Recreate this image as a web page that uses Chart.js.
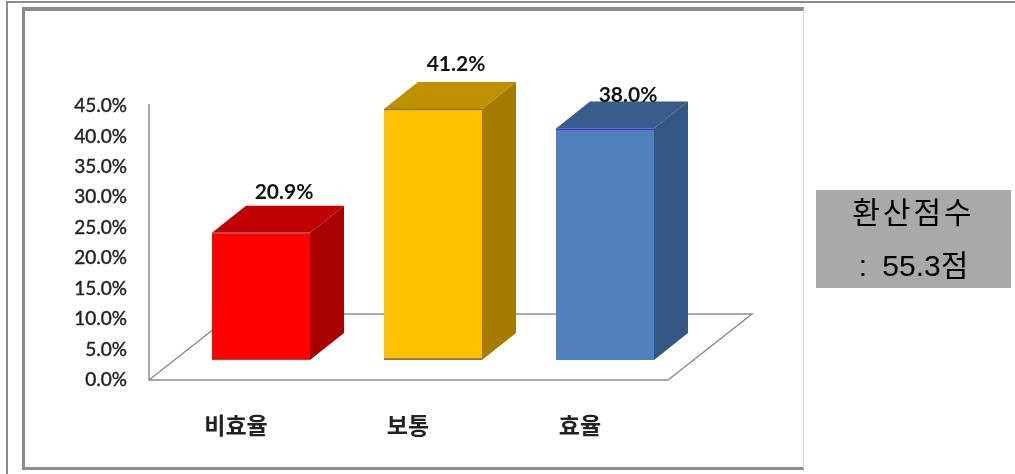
<!DOCTYPE html>
<html>
<head>
<meta charset="utf-8">
<script src="https://cdn.jsdelivr.net/npm/chart.js@4"></script>
<style>
  html, body { margin: 0; padding: 0; background: #fff; width: 1015px; height: 474px; overflow: hidden; }
  #outer { position: absolute; left: 6px; top: 1px; width: 1009px; height: 473px; border-left: 2px solid #8c8c8c; border-top: 2px solid #8c8c8c; box-sizing: border-box; }
  #inner { position: absolute; left: 22px; top: 7px; width: 782px; height: 463px; border: 3px solid #8c8c8c; border-top-width: 4px; border-right: 1px solid #d8d8d8; box-sizing: border-box; }
  #chart { position: absolute; left: 0; top: 0; }
  #score { position: absolute; left: 816px; top: 190px; width: 195px; height: 98px; background: #a9a9a9; color: #000;
    font: 30px "Liberation Sans", "Noto Sans CJK KR", sans-serif; text-align: center; line-height: 53px; }
  #score div { position: relative; top: -4px; }
  #score div:first-child { letter-spacing: 3px; }
  #score div:last-child { word-spacing: 7px; }
</style>
</head>
<body>
<div id="outer"></div>
<div id="inner"></div>
<canvas id="chart" width="1015" height="474"></canvas>
<div id="score"><div>환산점수</div><div>: 55.3점</div></div>
<script>
const categories = ['비효율', '보통', '효율']
const values = [20.9, 41.2, 38.0]

const frontColors = ['#ff0000', '#ffc000', '#4f81bd']
const topColors = ['#c00000', '#bf9000', '#385d8a']
const sideColors = ['#a80000', '#a67c00', '#345682']
const edgeColors = ['#a06060', '#8a7640', '#4030d0']
const labelLift = [40, 45, 33]

// the front faces stand further back on the floor than the axis, so they get their own shifted scale
const frontLift = 3.3
const depthX = 34
const depthY = 27

const polygon = (ctx, points, color) => {
  ctx.fillStyle = color
  ctx.beginPath()
  points.forEach(([x, y], i) => (i ? ctx.lineTo(x, y) : ctx.moveTo(x, y)))
  ctx.closePath()
  ctx.fill()
}

const box3d = {
  id: 'box3d',
  beforeDatasetsDraw(chart) {
    const { ctx, chartArea } = chart
    const { left, right, bottom } = chartArea

    // floor and axis line
    ctx.save()
    ctx.strokeStyle = '#8f8f8f'
    ctx.lineWidth = 1.5
    ctx.beginPath()
    ctx.moveTo(left - 26, chartArea.top - 2)
    ctx.lineTo(left - 26, bottom)
    ctx.lineTo(right - 23, bottom)
    ctx.lineTo(right + 61, bottom - 66)
    ctx.lineTo(left + 58, bottom - 66)
    ctx.lineTo(left - 26, bottom)
    ctx.stroke()

    chart.getDatasetMeta(0).data.forEach((bar, i) => {
      const x0 = bar.x - bar.width / 2
      const x1 = bar.x + bar.width / 2
      polygon(ctx, [[x1, bar.y], [x1 + depthX, bar.y - depthY], [x1 + depthX, bar.base - depthY], [x1, bar.base]], sideColors[i])
      polygon(ctx, [[x0, bar.y], [x0 + depthX, bar.y - depthY], [x1 + depthX, bar.y - depthY], [x1, bar.y]], topColors[i])
    })
    ctx.restore()
  },
  afterDatasetsDraw(chart) {
    const { ctx } = chart
    ctx.save()
    ctx.fillStyle = '#111'
    ctx.font = 'bold 21px Lato'
    ctx.textAlign = 'center'
    ctx.textBaseline = 'middle'
    chart.getDatasetMeta(0).data.forEach((bar, i) => {
      ctx.fillText(values[i].toFixed(1) + '%', bar.x + 23, bar.y - labelLift[i])
    })
    ctx.restore()
  }
}

new Chart(document.getElementById('chart'), {
  type: 'bar',
  data: {
    labels: categories,
    datasets: [
      {
        data: values,
        yAxisID: 'yBar',
        backgroundColor: frontColors,
        borderColor: edgeColors,
        borderWidth: [
          { top: 1.5, bottom: 1, left: 0, right: 0 },
          { top: 1.5, bottom: 2, left: 0, right: 0 },
          { top: 2, bottom: 0, left: 0, right: 0 }
        ],
        borderSkipped: false,
        barThickness: 98
      }
    ]
  },
  options: {
    responsive: false,
    animation: false,
    layout: { padding: { top: 106, right: 324, left: 0, bottom: 0 } },
    plugins: { legend: { display: false }, tooltip: { enabled: false } },
    scales: {
      x: {
        afterFit: (scale) => { scale.height = 94 },
        grid: { display: false, drawTicks: false },
        border: { display: false },
        ticks: {
          labelOffset: -25,
          padding: 31,
          color: '#222',
          font: { family: '"Noto Sans CJK KR"', size: 23, weight: 'bold' }
        }
      },
      y: {
        min: 0,
        max: 45,
        afterFit: (scale) => { scale.width = 175 },
        grid: { display: false, drawTicks: false },
        border: { display: false },
        ticks: {
          stepSize: 5,
          padding: 48,
          color: '#222',
          textStrokeColor: '#222',
          textStrokeWidth: 0.4,
          font: { family: 'Lato', size: 19 },
          callback: (v) => v.toFixed(1) + '%'
        }
      },
      yBar: { display: false, min: -frontLift, max: 45 - frontLift }
    }
  },
  plugins: [box3d]
})
</script>
</body>
</html>
